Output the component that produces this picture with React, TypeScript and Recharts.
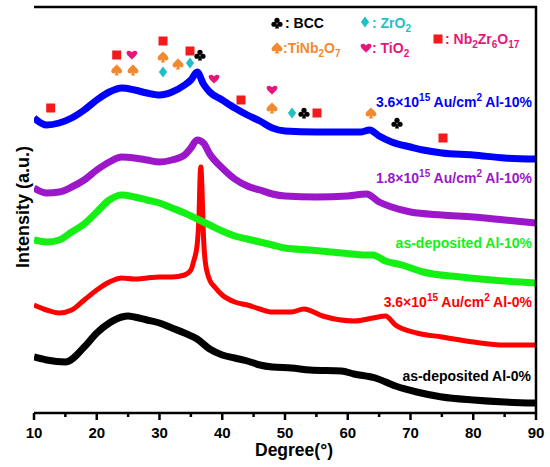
import React from 'react';
import { ComposedChart, Line, Scatter, XAxis, YAxis } from 'recharts';

// Degree (2θ) vs intensity (a.u.), curves are vertically offset as in the figure
const blueData: number[][] = [
  [10, 295], [12, 288], [14, 290], [16, 295], [18, 303], [20, 313], [22, 321], [24, 325], [26, 323],
  [28, 320], [30, 318], [32, 321], [34, 328], [35, 333], [36, 341], [37, 329], [38, 321], [40, 313],
  [42, 305], [44, 298], [46, 292], [48, 285], [50, 282], [55, 281], [60, 281], [62, 281],
  [63.5, 283], [65, 277], [67, 271], [70, 266], [72, 263], [75, 260], [80, 258], [85, 255], [90, 254],
];
const purpleData: number[][] = [
  [10, 225], [12, 220], [14, 221], [16, 226], [18, 233], [20, 243], [22, 251], [24, 256], [26, 255],
  [28, 253], [30, 251], [32, 253], [34, 258], [35, 265], [36, 273], [37, 270], [38, 259], [40, 245],
  [42, 234], [44, 227], [46, 223], [48, 219], [50, 217], [55, 216], [60, 217], [63, 219], [65, 211],
  [67, 206], [70, 201], [75, 198], [80, 196], [85, 193], [90, 190],
];
const greenData: number[][] = [
  [10, 173], [12, 171], [14, 173], [16, 181], [18, 189], [20, 201], [22, 213], [24, 218], [26, 216],
  [28, 213], [30, 210], [32, 205], [34, 200], [36, 194], [38, 188], [40, 182], [42, 177], [44, 174],
  [46, 171], [48, 168], [50, 165], [54, 163], [59, 160], [63, 158], [64, 158], [66, 152], [68.6, 148],
  [72, 141], [78, 136], [83, 133], [90, 130],
];
const redData: number[][] = [
  [10, 108], [12, 103], [14, 100], [16, 103], [18, 113], [20, 123], [22, 131], [24, 135], [26, 134],
  [28, 135], [30, 136], [32, 136], [34, 138], [35, 143], [35.5, 153], [36, 168], [36.3, 198], [36.5, 241],
  [36.6, 246], [36.75, 228], [37, 178], [37.3, 151], [38, 133], [38.8, 126], [40, 118], [42, 111],
  [44, 108], [46, 104], [48, 101], [51, 101], [53, 104], [56, 97], [61, 92], [64, 95], [66, 97],
  [67.6, 88], [71, 80], [75, 76], [80, 71], [85, 68], [90, 68],
];
const blackData: number[][] = [
  [10, 56], [12, 53], [15, 51], [18, 66], [20, 80], [22, 90], [24, 96], [25, 97], [26, 96], [28, 93],
  [30, 90], [32, 85], [34, 80], [36, 74], [38, 64], [40, 58], [42, 55], [44, 52], [46, 48], [48, 46],
  [51, 45], [54, 43], [59, 42], [61, 39], [64.4, 35], [67.6, 27], [71, 21], [75, 16], [80, 13],
  [85, 11], [90, 10],
];

// phase markers (degree, height)
const squareMarks: number[][] = [[12.66, 305], [23.18, 358], [30.56, 372], [34.86, 362], [42.99, 313], [55.1, 300], [75.18, 275]];
const heartMarks: number[][] = [[25.6, 358], [38.69, 334], [47.93, 323]];
const spadeMarks: number[][] = [[23.18, 343], [25.78, 343], [30.56, 356], [32.95, 349], [47.93, 305], [63.7, 300]];
const diamondMarks: number[][] = [[30.56, 341], [34.86, 350], [51.12, 300]];
const clubMarks: number[][] = [[36.45, 358], [53.03, 300], [67.85, 290]];

const xTicks = [10, 15, 20, 25, 30, 35, 40, 45, 50, 55, 60, 65, 70, 75, 80, 85, 90];
const xLabelTicks = [10, 20, 30, 40, 50, 60, 70, 80, 90];

const FONT = '"Liberation Sans", Arial, sans-serif';

const toObj = (arr: number[][]) => arr.map(([x, y]) => ({ x, y }));

const C = {
  blue: '#0000ff',
  purple: '#9b17c9',
  green: '#14f014',
  red: '#ff0000',
  black: '#000000',
  sq: '#f21a1a',
  spade: '#f3892e',
  heart: '#e8157c',
  diamond: '#1fbfc6',
};

const SPADE = 'M0,-6.5 C-2,-3.5 -6,-1.8 -6,1.4 C-6,3.9 -3.1,4.6 -1.1,2.9 L-2.3,6 L2.3,6 L1.1,2.9 C3.1,4.6 6,3.9 6,1.4 C6,-1.8 2,-3.5 0,-6.5 Z';
const HEART = 'M0,5.2 C-2,3 -6,0.4 -6,-2.4 C-6,-5 -2.4,-6 0,-3 C2.4,-6 6,-5 6,-2.4 C6,0.4 2,3 0,5.2 Z';
const DIAMOND = 'M0,-6 L4.6,0 L0,6 L-4.6,0 Z';

const Sym = ({ kind, cx, cy, color }: { kind: string; cx: number; cy: number; color: string }) => {
  const t = `translate(${cx},${cy}) scale(0.9)`;
  if (kind === 'square') return <rect x={cx - 4.5} y={cy - 4.5} width={9} height={9} fill={color} />;
  if (kind === 'spade') return <path transform={t} d={SPADE} fill={color} />;
  if (kind === 'heart') return <path transform={t} d={HEART} fill={color} />;
  if (kind === 'diamond') return <path transform={t} d={DIAMOND} fill={color} />;
  return (
    <g transform={t} fill={color}>
      <circle cx={0} cy={-3} r={2.9} />
      <circle cx={-3.3} cy={1.4} r={2.9} />
      <circle cx={3.3} cy={1.4} r={2.9} />
      <path d="M0,0 L-2.3,6 L2.3,6 Z" />
    </g>
  );
};

const shapeOf = (kind: string, color: string) => (props: any) => {
  const { cx, cy } = props;
  if (cx == null || cy == null) return <g />;
  return <Sym kind={kind} cx={cx} cy={cy} color={color} />;
};

const XTick = (props: any) => {
  const { x, y, payload } = props;
  const major = xLabelTicks.includes(payload.value);
  return (
    <g>
      <line x1={x} x2={x} y1={y} y2={y + (major ? 7 : 4)} stroke="#000" strokeWidth={2.5} />
      {major && (
        <text x={x} y={y + 25} textAnchor="middle" fontSize={15} fontWeight="bold" fontFamily={FONT} fill="#000">
          {payload.value}
        </text>
      )}
    </g>
  );
};

const Sub = ({ children }: { children: React.ReactNode }) => (
  <tspan fontSize={10} dy={4}>{children}</tspan>
);
const Sup = ({ children }: { children: React.ReactNode }) => (
  <tspan fontSize={10} dy={-6}>{children}</tspan>
);

export default function App() {
  const lineCommon = {
    type: 'monotone' as const,
    dataKey: 'y',
    dot: false,
    activeDot: false,
    isAnimationActive: false,
    strokeWidth: 7,
    strokeLinejoin: 'round' as const,
  };
  return (
    <div style={{ position: 'absolute', left: 0, top: 0, width: 550, height: 467, background: '#fff' }}>
      <ComposedChart width={550} height={467} margin={{ top: 7, right: 14, bottom: 0, left: 34 }}>
        <XAxis
          dataKey="x"
          type="number"
          domain={[10, 90]}
          ticks={xTicks}
          interval={0}
          height={54}
          tickSize={0}
          tickMargin={0}
          tickLine={false}
          axisLine={{ stroke: '#000', strokeWidth: 2.5 }}
          tick={<XTick />}
          allowDataOverflow
        />
        <YAxis
          type="number"
          domain={[0, 406]}
          width={0}
          tick={false}
          tickLine={false}
          axisLine={{ stroke: '#000', strokeWidth: 2.5 }}
          allowDataOverflow
        />
        <Line {...lineCommon} data={toObj(blackData)} stroke={C.black} />
        <Line {...lineCommon} data={toObj(redData)} stroke={C.red} strokeWidth={5} />
        <Line {...lineCommon} data={toObj(greenData)} stroke={C.green} />
        <Line {...lineCommon} data={toObj(purpleData)} stroke={C.purple} />
        <Line {...lineCommon} data={toObj(blueData)} stroke={C.blue} />
        <Scatter data={toObj(squareMarks)} dataKey="y" shape={shapeOf('square', C.sq)} isAnimationActive={false} />
        <Scatter data={toObj(spadeMarks)} dataKey="y" shape={shapeOf('spade', C.spade)} isAnimationActive={false} />
        <Scatter data={toObj(heartMarks)} dataKey="y" shape={shapeOf('heart', C.heart)} isAnimationActive={false} />
        <Scatter data={toObj(diamondMarks)} dataKey="y" shape={shapeOf('diamond', C.diamond)} isAnimationActive={false} />
        <Scatter data={toObj(clubMarks)} dataKey="y" shape={shapeOf('club', C.black)} isAnimationActive={false} />
      </ComposedChart>
      <svg
        width={550}
        height={467}
        style={{ position: 'absolute', left: 0, top: 0, pointerEvents: 'none' }}
      >
        <line x1={34} x2={537} y1={7} y2={7} stroke="#000" strokeWidth={2.5} />
        <line x1={536} x2={536} y1={6} y2={414} stroke="#000" strokeWidth={2.5} />
        {/* legend */}
        <Sym kind="club" cx={277} cy={23} color="#000" />
        <Sym kind="diamond" cx={365} cy={22} color={C.diamond} />
        <Sym kind="spade" cx={277} cy={48} color={C.spade} />
        <Sym kind="heart" cx={366} cy={48} color={C.heart} />
        <Sym kind="square" cx={438} cy={39} color={C.sq} />
        <g fontFamily={FONT} fontWeight="bold" fontSize={14}>
          <text x={285} y={28} fill="#000">: BCC</text>
          <text x={372} y={28} fill={C.diamond}>: ZrO<Sub>2</Sub></text>
          <text x={283} y={53} fill={C.spade}>:TiNb<Sub>2</Sub><tspan dy={-4}>O</tspan><Sub>7</Sub></text>
          <text x={372} y={53} fill={C.heart}>: TiO<Sub>2</Sub></text>
          <text x={445} y={44} fill={C.heart}>: Nb<Sub>2</Sub><tspan dy={-4}>Zr</tspan><Sub>6</Sub><tspan dy={-4}>O</tspan><Sub>17</Sub></text>
        </g>
        {/* series labels */}
        <g fontFamily={FONT} fontWeight="bold" fontSize={14} textAnchor="end">
          <text x={532} y={107} fill={C.blue}>3.6×10<Sup>15</Sup><tspan dy={6}> Au/cm</tspan><Sup>2</Sup><tspan dy={6}> Al-10%</tspan></text>
          <text x={532} y={183} fill={C.purple}>1.8×10<Sup>15</Sup><tspan dy={6}> Au/cm</tspan><Sup>2</Sup><tspan dy={6}> Al-10%</tspan></text>
          <text x={532} y={248} fill={C.green}>as-deposited Al-10%</text>
          <text x={532} y={307} fill={C.red}>3.6×10<Sup>15</Sup><tspan dy={6}> Au/cm</tspan><Sup>2</Sup><tspan dy={6}> Al-0%</tspan></text>
          <text x={531} y={381} fill={C.black}>as-deposited Al-0%</text>
        </g>
        {/* axis titles */}
        <text x={294} y={456} textAnchor="middle" fontFamily={FONT} fontWeight="bold" fontSize={17.5} fill="#000">Degree(°)</text>
        <text
          x={29}
          y={207}
          transform="rotate(-90 29 207)"
          textAnchor="middle"
          fontFamily={FONT}
          fontWeight="bold"
          fontSize={18}
          fill="#000"
        >
          Intensity (a.u.)
        </text>
      </svg>
    </div>
  );
}
